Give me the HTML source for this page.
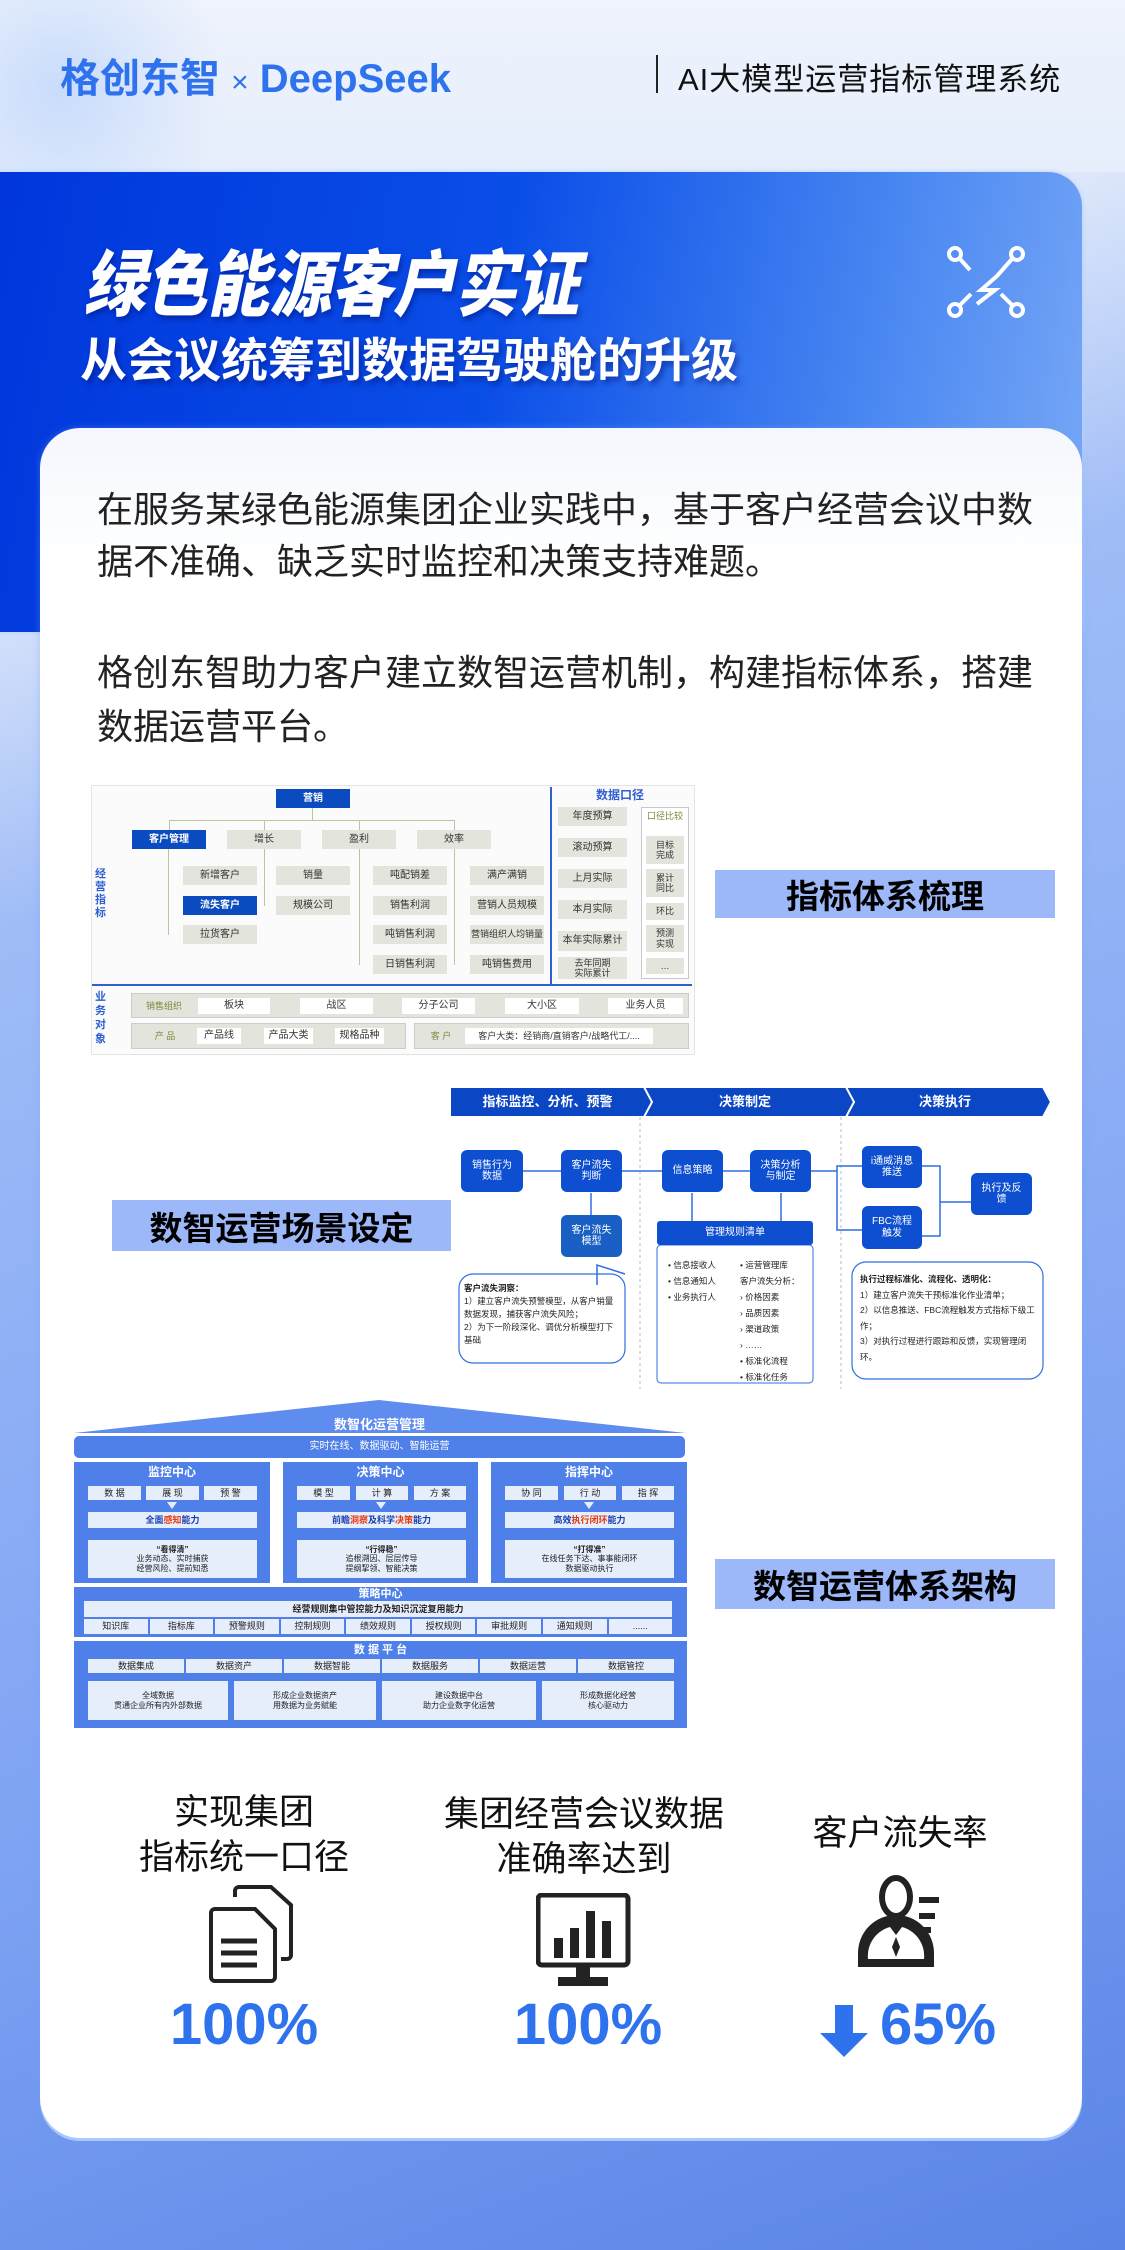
<!DOCTYPE html>
<html><head><meta charset="utf-8">
<style>
*{margin:0;padding:0;box-sizing:border-box}
body{width:1125px;height:2250px;position:relative;overflow:hidden;font-family:"Liberation Sans","Noto Sans CJK SC",sans-serif;background:linear-gradient(160deg,#eef3fc 0%,#e4ecfb 20%,#9fbcf7 35%,#7ea3f4 70%,#5a84e6 100%)}
.a{position:absolute}
.b{position:absolute;display:flex;align-items:center;justify-content:center;text-align:center;line-height:1.15}
.g{background:#e3e5dc;color:#333;font-size:10px}
.bl{background:#0a4bbf;color:#fff;font-size:10px;font-weight:bold}
.w{background:#fff;color:#333;font-size:10px}
.n{background:#0d4fd0;color:#fff;font-size:10px;border-radius:6px}
.c{background:#4f80ea}
.i{background:#e6edfb;color:#222;font-size:9px}
.lab{position:absolute;background:#9cb8f8;color:#000;font-weight:bold;font-size:33px;display:flex;align-items:center;justify-content:center}
.ln{position:absolute;background:#b9c79a}
</style></head><body>
<div class="a" style="left:0;top:0;width:1125px;height:172px;background:linear-gradient(180deg,#eef3fc,#e6eefc)"></div>
<div class="a" style="left:-120px;top:-60px;width:360px;height:300px;border-radius:50%;background:radial-gradient(circle,#c9dcfb 0%,rgba(220,232,252,0) 70%)"></div>
<div class="a" style="left:60px;top:46px;font-size:40px;font-weight:bold;color:#2f72ee;white-space:nowrap">格创东智 <span style="font-size:30px;font-weight:normal">×</span> DeepSeek</div>
<div class="a" style="left:656px;top:55px;width:2px;height:38px;background:#222"></div>
<div class="a" style="left:678px;top:54px;font-size:31px;color:#111;white-space:nowrap;letter-spacing:1px">AI大模型运营指标管理系统</div>

<!-- blue panel -->
<div class="a" style="left:0;top:172px;width:1082px;height:460px;border-radius:0 34px 0 0;background:linear-gradient(100deg,#0036dc 0%,#0a4ee8 45%,#4d8af2 80%,#7aa9f7 100%);box-shadow:0 0 6px #b5d3ff"></div>
<div class="a" style="left:90px;top:226px;font-size:72px;font-weight:900;color:#fff;transform:skewX(-12deg) scaleX(0.86);transform-origin:left center;letter-spacing:0;text-shadow:3px 4px 6px rgba(0,20,120,.5);white-space:nowrap">绿色能源客户实证</div>
<div class="a" style="left:80px;top:322px;font-size:47px;font-weight:bold;color:#fff;text-shadow:3px 4px 6px rgba(0,20,120,.5);white-space:nowrap">从会议统筹到数据驾驶舱的升级</div>
<svg class="a" style="left:945px;top:242px" width="84" height="80" viewBox="0 0 84 80" fill="none" stroke="#fff" stroke-width="4">
<circle cx="10" cy="12" r="6"/><circle cx="72" cy="12" r="6"/><circle cx="10" cy="68" r="6"/><circle cx="72" cy="68" r="6"/>
<path d="M15 17 L25 28 M67 17 L52 34 L36 48 L50 48 L32 62 M15 63 L26 52 M67 63 L56 52"/></svg>

<!-- white card -->
<div class="a" style="left:40px;top:428px;width:1042px;height:1710px;border-radius:40px;background:linear-gradient(180deg,#f4f7fd 0%,#fff 8%,#fff 100%);box-shadow:0 3px 0 #a9c8ff,0 0 8px rgba(120,160,240,.4)"></div>

<div class="a" style="left:97px;top:484px;font-size:36px;color:#222;line-height:52px;width:950px">在服务某绿色能源集团企业实践中，基于客户经营会议中数据不准确、缺乏实时监控和决策支持难题。</div>
<div class="a" style="left:97px;top:646px;font-size:36px;color:#222;line-height:54px;width:950px">格创东智助力客户建立数智运营机制，构建指标体系，搭建数据运营平台。</div>

<!-- Diagram 1 -->
<div class="a" style="left:91px;top:785px;width:604px;height:270px;background:#fbfbfb;border:1px solid #e4e4e4"></div>
<div class="ln" style="left:312px;top:808px;width:1px;height:13px"></div>
<div class="ln" style="left:169px;top:820px;width:286px;height:1px"></div>
<div class="ln" style="left:169px;top:820px;width:1px;height:10px"></div><div class="ln" style="left:264px;top:820px;width:1px;height:10px"></div><div class="ln" style="left:359px;top:820px;width:1px;height:10px"></div><div class="ln" style="left:454px;top:820px;width:1px;height:10px"></div>
<div class="ln" style="left:168px;top:849px;width:1px;height:86px"></div>
<div class="ln" style="left:264px;top:849px;width:1px;height:57px"></div>
<div class="ln" style="left:359px;top:849px;width:1px;height:116px"></div>
<div class="ln" style="left:454px;top:849px;width:1px;height:116px"></div>
<div class="b bl" style="left:276px;top:789px;width:74px;height:19px">营销</div>
<div class="b bl" style="left:132px;top:830px;width:74px;height:19px">客户管理</div>
<div class="b g" style="left:227px;top:830px;width:74px;height:19px">增长</div>
<div class="b g" style="left:322px;top:830px;width:74px;height:19px">盈利</div>
<div class="b g" style="left:417px;top:830px;width:74px;height:19px">效率</div>
<div class="b g" style="left:183px;top:866px;width:74px;height:19px">新增客户</div>
<div class="b bl" style="left:183px;top:896px;width:74px;height:19px">流失客户</div>
<div class="b g" style="left:183px;top:925px;width:74px;height:19px">拉货客户</div>
<div class="b g" style="left:276px;top:866px;width:74px;height:19px">销量</div>
<div class="b g" style="left:276px;top:896px;width:74px;height:19px">规模公司</div>
<div class="b g" style="left:373px;top:866px;width:74px;height:19px">吨配销差</div>
<div class="b g" style="left:373px;top:896px;width:74px;height:19px">销售利润</div>
<div class="b g" style="left:373px;top:925px;width:74px;height:19px">吨销售利润</div>
<div class="b g" style="left:373px;top:955px;width:74px;height:19px">日销售利润</div>
<div class="b g" style="left:470px;top:866px;width:74px;height:19px">满产满销</div>
<div class="b g" style="left:470px;top:896px;width:74px;height:19px">营销人员规模</div>
<div class="b g" style="left:470px;top:925px;width:74px;height:19px;font-size:9px">营销组织人均销量</div>
<div class="b g" style="left:470px;top:955px;width:74px;height:19px">吨销售费用</div>
<div class="a" style="left:95px;top:868px;width:14px;font-size:11px;color:#2f5fd0;font-weight:bold;line-height:13px">经营指标</div>
<div class="a" style="left:550px;top:787px;width:2px;height:198px;background:#2f5fd0"></div>
<div class="a" style="left:92px;top:984px;width:600px;height:2px;background:#2f5fd0"></div>
<div class="b" style="left:590px;top:788px;width:60px;height:16px;font-size:12px;color:#2f5fd0;font-weight:bold">数据口径</div>
<div class="b g" style="left:558px;top:807px;width:69px;height:19px">年度预算</div>
<div class="b g" style="left:558px;top:838px;width:69px;height:19px">滚动预算</div>
<div class="b g" style="left:558px;top:869px;width:69px;height:19px">上月实际</div>
<div class="b g" style="left:558px;top:900px;width:69px;height:19px">本月实际</div>
<div class="b g" style="left:558px;top:931px;width:69px;height:20px">本年实际累计</div>
<div class="b g" style="left:558px;top:957px;width:69px;height:22px;font-size:9px">去年同期<br>实际累计</div>
<div class="a" style="left:641px;top:807px;width:48px;height:172px;border:1px solid #c8c8c8;background:#fff"></div>
<div class="b" style="left:641px;top:809px;width:48px;height:14px;font-size:9px;color:#7a8a3a">口径比较</div>
<div class="b g" style="left:646px;top:836px;width:38px;height:28px;font-size:9px">目标<br>完成</div>
<div class="b g" style="left:646px;top:869px;width:38px;height:28px;font-size:9px">累计<br>同比</div>
<div class="b g" style="left:646px;top:903px;width:38px;height:17px;font-size:9px">环比</div>
<div class="b g" style="left:646px;top:925px;width:38px;height:27px;font-size:9px">预测<br>实现</div>
<div class="b g" style="left:646px;top:958px;width:38px;height:16px;font-size:9px">…</div>
<div class="a" style="left:95px;top:990px;width:14px;font-size:11px;color:#2f5fd0;font-weight:bold;line-height:14px">业务对象</div>
<div class="a" style="left:131px;top:993px;width:558px;height:25px;background:#e3e5dc;border:1px solid #ccc"></div>
<div class="b" style="left:134px;top:998px;width:60px;height:16px;font-size:9px;color:#7a8a3a">销售组织</div>
<div class="b w" style="left:198px;top:998px;width:72px;height:16px">板块</div>
<div class="b w" style="left:300px;top:998px;width:73px;height:16px">战区</div>
<div class="b w" style="left:402px;top:998px;width:73px;height:16px">分子公司</div>
<div class="b w" style="left:505px;top:998px;width:74px;height:16px">大小区</div>
<div class="b w" style="left:608px;top:998px;width:75px;height:16px">业务人员</div>
<div class="a" style="left:131px;top:1023px;width:275px;height:26px;background:#e3e5dc;border:1px solid #ccc"></div>
<div class="b" style="left:140px;top:1028px;width:50px;height:16px;font-size:9px;color:#7a8a3a">产 品</div>
<div class="b w" style="left:197px;top:1028px;width:44px;height:16px">产品线</div>
<div class="b w" style="left:264px;top:1028px;width:49px;height:16px">产品大类</div>
<div class="b w" style="left:335px;top:1028px;width:49px;height:16px">规格品种</div>
<div class="a" style="left:414px;top:1023px;width:275px;height:26px;background:#e3e5dc;border:1px solid #ccc"></div>
<div class="b" style="left:420px;top:1028px;width:42px;height:16px;font-size:9px;color:#7a8a3a">客 户</div>
<div class="b w" style="left:465px;top:1028px;width:188px;height:16px;font-size:9px">客户大类：经销商/直销客户/战略代工/....</div>
<div class="lab" style="left:715px;top:870px;width:340px;height:48px">指标体系梳理</div>

<!-- Diagram 2 -->
<div class="a" style="left:447px;top:1070px;width:609px;height:319px;background:#fff"></div>
<svg class="a" style="left:447px;top:1070px" width="609" height="319">
<g fill="#0b46c4" stroke="#fff" stroke-width="2">
<polygon points="3,17 200,17 208,32 200,47 3,47"/>
<polygon points="197,17 402,17 410,32 402,47 197,47 205,32"/>
<polygon points="399,17 596,17 604,32 596,47 399,47 407,32"/>
</g>
<g stroke="#bbb" stroke-dasharray="3,3"><line x1="193" y1="47" x2="193" y2="319"/><line x1="394" y1="47" x2="394" y2="319"/></g>
<g stroke="#2f6fe0" stroke-width="1.5" fill="none">
<line x1="76" y1="101" x2="114" y2="101"/><line x1="175" y1="101" x2="215" y2="101"/><line x1="276" y1="101" x2="303" y2="101"/>
<line x1="144" y1="123" x2="144" y2="145"/><line x1="245" y1="123" x2="245" y2="151"/><line x1="334" y1="123" x2="334" y2="151"/>
<path d="M364 101 H390 V96 H415 M390 101 V160 H415"/>
<path d="M475 96 H493 V166 H475 M493 132 H524"/>
<path d="M178 204 L150 195 L150 215"/>
</g>
<g fill="none" stroke="#2f6fe0" stroke-width="1.2"><rect x="12" y="204" width="166" height="89" rx="14"/><rect x="405" y="192" width="191" height="117" rx="14"/></g>
<rect x="210" y="175" width="156" height="138" fill="#fff" stroke="#2f6fe0" rx="4"/>
</svg>
<div class="b" style="left:450px;top:1087px;width:195px;height:30px;color:#fff;font-size:13px;font-weight:bold">指标监控、分析、预警</div>
<div class="b" style="left:645px;top:1087px;width:200px;height:30px;color:#fff;font-size:13px;font-weight:bold">决策制定</div>
<div class="b" style="left:845px;top:1087px;width:200px;height:30px;color:#fff;font-size:13px;font-weight:bold">决策执行</div>
<div class="b n" style="left:461px;top:1150px;width:62px;height:42px">销售行为<br>数据</div>
<div class="b n" style="left:561px;top:1150px;width:61px;height:42px">客户流失<br>判断</div>
<div class="b n" style="left:662px;top:1150px;width:61px;height:42px">信息策略</div>
<div class="b n" style="left:750px;top:1150px;width:61px;height:42px">决策分析<br>与制定</div>
<div class="b n" style="left:862px;top:1146px;width:60px;height:42px">i通威消息<br>推送</div>
<div class="b n" style="left:862px;top:1206px;width:60px;height:43px">FBC流程<br>触发</div>
<div class="b n" style="left:971px;top:1173px;width:61px;height:42px">执行及反<br>馈</div>
<div class="b n" style="left:561px;top:1215px;width:61px;height:42px;background:#1a5fc4">客户流失<br>模型</div>
<div class="b n" style="left:657px;top:1221px;width:156px;height:24px;border-radius:3px">管理规则清单</div>
<div class="a" style="left:464px;top:1282px;width:156px;font-size:8.5px;color:#222;line-height:13px"><b>客户流失洞察：</b><br>1）建立客户流失预警模型，从客户销量数据发现，捕获客户流失风险；<br>2）为下一阶段深化、调优分析模型打下基础</div>
<div class="a" style="left:668px;top:1257px;width:70px;font-size:8.5px;color:#222;line-height:16px">• 信息接收人<br>• 信息通知人<br>• 业务执行人</div>
<div class="a" style="left:740px;top:1257px;width:72px;font-size:8.5px;color:#222;line-height:16px">• 运营管理库<br>客户流失分析：<br>› 价格因素<br>› 品质因素<br>› 渠道政策<br>› ……<br>• 标准化流程<br>• 标准化任务</div>
<div class="a" style="left:860px;top:1272px;width:180px;font-size:8.5px;color:#222;line-height:15.5px"><b>执行过程标准化、流程化、透明化：</b><br>1）建立客户流失干预标准化作业清单；<br>2）以信息推送、FBC流程触发方式指标下级工作；<br>3）对执行过程进行跟踪和反馈，实现管理闭环。</div>
<div class="lab" style="left:112px;top:1200px;width:339px;height:51px">数智运营场景设定</div>

<!-- Diagram 3 -->
<svg class="a" style="left:74px;top:1400px" width="612" height="34"><polygon points="0,33 305,0 612,33" fill="#5e8def"/></svg>
<div class="b" style="left:74px;top:1416px;width:611px;height:18px;color:#fff;font-size:13px;font-weight:bold">数智化运营管理</div>
<div class="b c" style="left:74px;top:1436px;width:611px;height:22px;border-radius:5px;color:#fff;font-size:10px">实时在线、数据驱动、智能运营</div>

<div class="c a" style="left:74px;top:1462px;width:196px;height:121px"></div>
<div class="c a" style="left:283px;top:1462px;width:195px;height:121px"></div>
<div class="c a" style="left:491px;top:1462px;width:196px;height:121px"></div>
<div class="b" style="left:74px;top:1465px;width:196px;height:16px;color:#fff;font-size:12px;font-weight:bold">监控中心</div>
<div class="b" style="left:283px;top:1465px;width:195px;height:16px;color:#fff;font-size:12px;font-weight:bold">决策中心</div>
<div class="b" style="left:491px;top:1465px;width:196px;height:16px;color:#fff;font-size:12px;font-weight:bold">指挥中心</div>
<div class="b i" style="left:88px;top:1486px;width:53px;height:14px">数 据</div><div class="b i" style="left:146px;top:1486px;width:53px;height:14px">展 现</div><div class="b i" style="left:204px;top:1486px;width:53px;height:14px">预 警</div>
<div class="b i" style="left:297px;top:1486px;width:53px;height:14px">模 型</div><div class="b i" style="left:356px;top:1486px;width:52px;height:14px">计 算</div><div class="b i" style="left:414px;top:1486px;width:52px;height:14px">方 案</div>
<div class="b i" style="left:505px;top:1486px;width:53px;height:14px">协 同</div><div class="b i" style="left:564px;top:1486px;width:52px;height:14px">行 动</div><div class="b i" style="left:622px;top:1486px;width:52px;height:14px">指 挥</div>
<div class="b i" style="left:88px;top:1512px;width:169px;height:16px;font-weight:bold;color:#1840b0">全面<span style="color:#e8380d">感知</span>能力</div>
<div class="b i" style="left:297px;top:1512px;width:169px;height:16px;font-weight:bold;color:#1840b0">前瞻<span style="color:#e8380d">洞察</span>及科学<span style="color:#e8380d">决策</span>能力</div>
<div class="b i" style="left:505px;top:1512px;width:169px;height:16px;font-weight:bold;color:#1840b0">高效<span style="color:#e8380d">执行闭环</span>能力</div>
<div class="b i" style="left:88px;top:1540px;width:169px;height:38px;font-size:8px"><div><b>“看得清”</b><br>业务动态、实时捕获<br>经营风险、提前知悉</div></div>
<div class="b i" style="left:297px;top:1540px;width:169px;height:38px;font-size:8px"><div><b>“行得稳”</b><br>追根溯因、层层传导<br>提纲挈领、智能决策</div></div>
<div class="b i" style="left:505px;top:1540px;width:169px;height:38px;font-size:8px"><div><b>“打得准”</b><br>在线任务下达、事事能闭环<br>数据驱动执行</div></div>
<div class="a" style="left:167px;top:1502px;width:0;height:0;border:5px solid transparent;border-top:7px solid #e6edfb"></div>
<div class="a" style="left:376px;top:1502px;width:0;height:0;border:5px solid transparent;border-top:7px solid #e6edfb"></div>
<div class="a" style="left:584px;top:1502px;width:0;height:0;border:5px solid transparent;border-top:7px solid #e6edfb"></div>
<div class="c a" style="left:74px;top:1587px;width:613px;height:50px"></div>
<div class="b" style="left:74px;top:1587px;width:613px;height:14px;color:#fff;font-size:11px;font-weight:bold">策略中心</div>
<div class="b i" style="left:84px;top:1601px;width:588px;height:16px;font-weight:bold">经营规则集中管控能力及知识沉淀复用能力</div>
<div class="a" style="left:84px;top:1619px;width:588px;height:15px;display:flex;gap:2px">
<div class="b i" style="position:static;flex:1">知识库</div><div class="b i" style="position:static;flex:1">指标库</div><div class="b i" style="position:static;flex:1">预警规则</div><div class="b i" style="position:static;flex:1">控制规则</div><div class="b i" style="position:static;flex:1">绩效规则</div><div class="b i" style="position:static;flex:1">授权规则</div><div class="b i" style="position:static;flex:1">审批规则</div><div class="b i" style="position:static;flex:1">通知规则</div><div class="b i" style="position:static;flex:1">......</div></div>
<div class="c a" style="left:74px;top:1641px;width:613px;height:87px"></div>
<div class="b" style="left:74px;top:1643px;width:613px;height:14px;color:#fff;font-size:11px;font-weight:bold">数 据 平 台</div>
<div class="a" style="left:88px;top:1659px;width:586px;height:14px;display:flex;gap:2px">
<div class="b i" style="position:static;flex:1">数据集成</div><div class="b i" style="position:static;flex:1">数据资产</div><div class="b i" style="position:static;flex:1">数据智能</div><div class="b i" style="position:static;flex:1">数据服务</div><div class="b i" style="position:static;flex:1">数据运营</div><div class="b i" style="position:static;flex:1">数据管控</div></div>
<div class="b i" style="left:88px;top:1681px;width:140px;height:39px;font-size:8px">全域数据<br>贯通企业所有内外部数据</div>
<div class="b i" style="left:234px;top:1681px;width:142px;height:39px;font-size:8px">形成企业数据资产<br>用数据为业务赋能</div>
<div class="b i" style="left:382px;top:1681px;width:154px;height:39px;font-size:8px">建设数据中台<br>助力企业数字化运营</div>
<div class="b i" style="left:542px;top:1681px;width:132px;height:39px;font-size:8px">形成数据化经营<br>核心驱动力</div>
<div class="lab" style="left:715px;top:1559px;width:340px;height:50px">数智运营体系架构</div>

<!-- stats -->
<div class="b" style="left:104px;top:1790px;width:280px;height:90px;font-size:35px;color:#111;line-height:45px">实现集团<br>指标统一口径</div>
<div class="b" style="left:424px;top:1792px;width:320px;height:90px;font-size:35px;color:#111;line-height:45px">集团经营会议数据<br>准确率达到</div>
<div class="b" style="left:780px;top:1812px;width:240px;height:45px;font-size:35px;color:#111">客户流失率</div>
<svg class="a" style="left:205px;top:1885px" width="90" height="98" viewBox="0 0 90 98" fill="none" stroke="#222" stroke-width="4">
<path d="M30 12 V6 a4 4 0 0 1 4 -4 H66 L86 20 V70 a4 4 0 0 1 -4 4 H76"/>
<path d="M6 28 a4 4 0 0 1 4 -4 H50 L70 44 V92 a4 4 0 0 1 -4 4 H10 a4 4 0 0 1 -4 -4 Z"/>
<path d="M16 56 H52 M16 68 H52 M16 80 H52" stroke-width="5"/></svg>
<svg class="a" style="left:536px;top:1893px" width="95" height="95" viewBox="0 0 95 95" fill="#222">
<rect x="2" y="2" width="90" height="70" rx="4" fill="none" stroke="#222" stroke-width="5"/>
<rect x="18" y="45" width="9" height="20"/><rect x="34" y="35" width="9" height="30"/><rect x="50" y="18" width="9" height="47"/><rect x="66" y="28" width="9" height="37"/>
<rect x="40" y="74" width="14" height="12"/><rect x="22" y="84" width="50" height="9"/></svg>
<svg class="a" style="left:856px;top:1875px" width="85" height="92" viewBox="0 0 85 92" fill="#222">
<ellipse cx="40" cy="22" rx="14" ry="19" fill="none" stroke="#222" stroke-width="6"/>
<path d="M2 92 V78 A38 38 0 0 1 78 78 V92 Z M12 84 H68 A30 30 0 0 0 46 52 L40 60 L34 52 A30 30 0 0 0 12 84 Z" fill-rule="evenodd"/>
<path d="M40 62 L44 72 L40 82 L36 72 Z"/>
<rect x="63" y="22" width="20" height="6"/><rect x="63" y="38" width="16" height="6"/><rect x="63" y="52" width="12" height="6"/></svg>
<div class="b" style="left:144px;top:1990px;width:200px;height:70px;font-size:58px;font-weight:900;color:#2f72ee">100%</div>
<div class="b" style="left:488px;top:1990px;width:200px;height:70px;font-size:58px;font-weight:900;color:#2f72ee">100%</div>
<svg class="a" style="left:820px;top:2005px" width="50" height="52"><path d="M15 0 H33 V28 H48 L24 52 L0 28 H15 Z" fill="#2f72ee"/></svg>
<div class="b" style="left:868px;top:1990px;width:140px;height:70px;font-size:58px;font-weight:900;color:#2f72ee">65%</div>
</body></html>
